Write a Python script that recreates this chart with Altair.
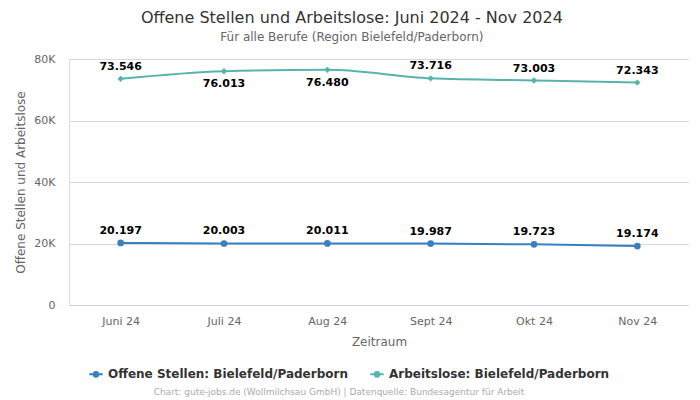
import altair as alt
import pandas as pd

months = ["Juni 24", "Juli 24", "Aug 24", "Sept 24", "Okt 24", "Nov 24"]
offene_stellen = [20197, 20003, 20011, 19987, 19723, 19174]
arbeitslose = [73546, 76013, 76480, 73716, 73003, 72343]
series_names = ["Offene Stellen: Bielefeld/Paderborn", "Arbeitslose: Bielefeld/Paderborn"]
colors = ["#3a80c0", "#56b4ac"]

rows = []
for m, v in zip(months, offene_stellen):
    rows.append({"Monat": m, "Wert": v, "Serie": series_names[0]})
for m, v in zip(months, arbeitslose):
    rows.append({"Monat": m, "Wert": v, "Serie": series_names[1]})
df = pd.DataFrame(rows)

FONT = "DejaVu Sans"
W, H = 620, 246

x = alt.X("Monat:N", sort=months, title="Zeitraum",
          scale=alt.Scale(type="point", padding=0.5),
          axis=alt.Axis(labelAngle=0, labelColor="#666", labelFontSize=11, titleColor="#666",
                        titleFontSize=12, titleFontWeight="normal", domainColor="#ccd6eb",
                        ticks=False, labelPadding=10, titlePadding=10))
y = alt.Y("Wert:Q", title="Offene Stellen und Arbeitslose",
          scale=alt.Scale(domain=[0, 80000]),
          axis=alt.Axis(values=[0, 20000, 40000, 60000, 80000],
                        labelExpr="datum.value == 0 ? '0' : (datum.value/1000) + 'K'",
                        labelColor="#666", labelFontSize=11, titleColor="#666", titleFontSize=12,
                        titleFontWeight="normal", domain=False, ticks=False, gridColor="#d8d8d8",
                        labelPadding=14, titlePadding=6))
color = alt.Color("Serie:N", sort=series_names,
                  scale=alt.Scale(domain=series_names, range=colors),
                  legend=alt.Legend(title=None, orient="none", legendX=19, legendY=307,
                                    direction="horizontal", labelFontSize=12, labelFontWeight="bold",
                                    labelColor="#333", labelFont=FONT, columnPadding=18,
                                    labelLimit=0,
                                    symbolType="M-1,0H-0.35A0.35,0.35,0,1,1,0.35,0H1M0.35,0A0.35,0.35,0,1,1,-0.35,0",
                                    symbolSize=180, symbolStrokeWidth=2))

base = alt.Chart(df).encode(x=x, y=y, color=color)

lines = base.mark_line(interpolate="monotone", strokeWidth=2)
points_a = base.transform_filter(alt.datum.Serie == series_names[0]).mark_point(
    filled=True, size=45, opacity=1, shape="circle")
points_b = base.transform_filter(alt.datum.Serie == series_names[1]).mark_point(
    filled=True, size=40, opacity=1, shape="diamond")

lab = base.transform_calculate(
    label="replace(format(datum.Wert, ','), ',', '.')"
)
labels_above = lab.transform_filter("datum.Wert < 75000").mark_text(
    dy=-12, fontWeight="bold", fontSize=11, font=FONT).encode(
    text="label:N", color=alt.value("black"))
labels_below = lab.transform_filter("datum.Wert >= 75000").mark_text(
    dy=13, fontWeight="bold", fontSize=11, font=FONT).encode(
    text="label:N", color=alt.value("black"))

footer = alt.Chart(pd.DataFrame({"t": ["Chart: gute-jobs.de (Wollmilchsau GmbH) | Datenquelle: Bundesagentur für Arbeit"]})).mark_text(
    fontSize=9, font=FONT, color="#aaa").encode(
    text="t:N", x=alt.value(270), y=alt.value(333))

chart = alt.layer(lines, points_a, points_b, labels_above, labels_below, footer).properties(
    width=W, height=H,
    title=alt.TitleParams(
        text="Offene Stellen und Arbeitslose: Juni 2024 - Nov 2024",
        subtitle="Für alle Berufe (Region Bielefeld/Paderborn)",
        fontSize=16, fontWeight="normal", color="#333", font=FONT,
        subtitleFontSize=12, subtitleColor="#666", subtitleFont=FONT, subtitlePadding=6,
        anchor="middle", frame="bounds", offset=10)
).configure_view(stroke=None).configure_axis(labelFont=FONT, titleFont=FONT).configure(
    font=FONT, padding={"left": 6, "right": 0, "top": 2, "bottom": 36})

chart.save("out.html", embed_options={"renderer": "svg", "actions": False})
